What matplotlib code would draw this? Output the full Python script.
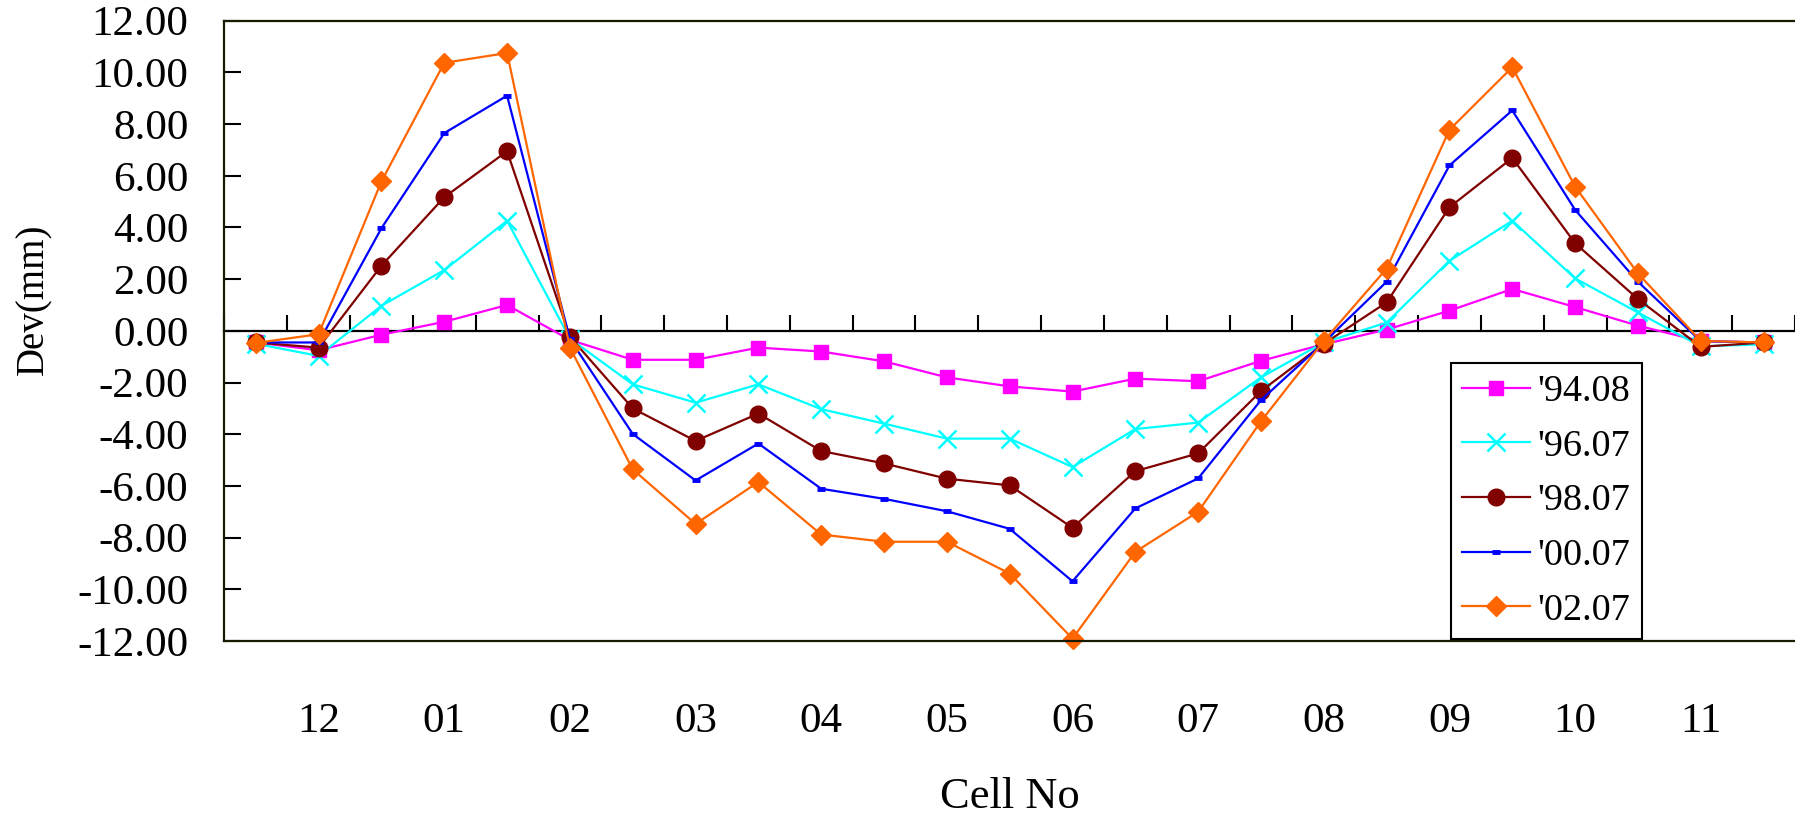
import numpy as np
import matplotlib
matplotlib.use("Agg")
import matplotlib.pyplot as plt
from matplotlib.ticker import FormatStrFormatter

plt.rcParams['font.family'] = ['Liberation Serif', 'DejaVu Serif']
plt.rcParams['axes.unicode_minus'] = False

# cell positions: 25 survey points, labels on every other one
cell_labels = ['12', '01', '02', '03', '04', '05', '06', '07', '08', '09', '10', '11']
label_pos = list(range(1, 25, 2))
n_pts = 25

dev_9408 = [-0.45, -0.75, -0.15, 0.35, 1.0, -0.35, -1.12, -1.12, -0.65, -0.8, -1.18, -1.8, -2.15,
            -2.35, -1.85, -1.95, -1.16, -0.52, 0.05, 0.78, 1.62, 0.92, 0.2, -0.4, -0.45]
dev_9607 = [-0.5, -0.97, 0.97, 2.35, 4.26, -0.3, -2.07, -2.78, -2.07, -3.03, -3.59, -4.17, -4.17,
            -5.27, -3.8, -3.55, -1.8, -0.45, 0.32, 2.71, 4.26, 2.03, 0.71, -0.6, -0.52]
dev_9807 = [-0.45, -0.65, 2.52, 5.17, 6.95, -0.23, -3.0, -4.26, -3.2, -4.65, -5.13, -5.72, -5.98,
            -7.62, -5.43, -4.74, -2.33, -0.5, 1.1, 4.78, 6.69, 3.39, 1.23, -0.62, -0.45]
dev_0007 = [-0.45, -0.45, 3.97, 7.65, 9.1, -0.32, -3.99, -5.79, -4.36, -6.11, -6.5, -6.98, -7.66,
            -9.69, -6.87, -5.71, -2.68, -0.45, 1.9, 6.4, 8.53, 4.68, 1.9, -0.4, -0.45]
dev_0207 = [-0.47, -0.13, 5.78, 10.37, 10.75, -0.65, -5.36, -7.47, -5.85, -7.88, -8.16, -8.16, -9.39,
            -11.91, -8.55, -7.0, -3.5, -0.39, 2.41, 7.78, 10.2, 5.58, 2.22, -0.39, -0.45]

x = np.arange(n_pts)

fig = plt.figure(figsize=(17.95, 8.18), dpi=100)
ax = fig.add_axes([0.125, 0.2164, 0.875, 0.7583])

ax.plot(x, dev_9408, color='#FF00FF', lw=1.6, marker='s', ms=10, label="'94.08", clip_on=False)
ax.plot(x, dev_9607, color='#00FFFF', lw=1.6, marker='x', ms=13, mew=1.8, label="'96.07", clip_on=False)
ax.plot(x, dev_9807, color='#800000', lw=1.6, marker='o', ms=12, label="'98.07", clip_on=False)
ax.plot(x, dev_0007, color='#0000FF', lw=1.6, marker='_', ms=6, mew=3.5, label="'00.07", clip_on=False)
ax.plot(x, dev_0207, color='#FF6600', lw=1.6, marker='D', ms=10, label="'02.07", clip_on=False)

ax.set_xlim(-0.5, n_pts - 0.5)
ax.set_ylim(-12, 12)

# y axis
ax.set_yticks(np.arange(-12, 13, 2))
ax.yaxis.set_major_formatter(FormatStrFormatter('%.2f'))
ax.tick_params(axis='y', direction='in', length=12, width=1.5, pad=26, labelsize=31)

# x labels at the bottom, no tick marks
ax.set_xticks(label_pos, cell_labels)
ax.tick_params(axis='x', length=0, pad=44, labelsize=31)

for side in ['top', 'bottom', 'left']:
    ax.spines[side].set_linewidth(1.6)
    ax.spines[side].set_color('#1a1a00')
ax.spines['right'].set_visible(False)

# zero line with category boundary ticks
zero_ax = ax.secondary_xaxis(0.5)
zero_ax.set_xticks(np.arange(-0.5, n_pts, 1))
zero_ax.tick_params(axis='x', direction='out', length=11.5, width=1.5, labeltop=False, labelbottom=False)
zero_ax.spines['top'].set_linewidth(1.6)
zero_ax.spines['top'].set_color('black')

fig.text(1010 / 1795, 1 - 808 / 818, 'Cell No', fontsize=32, ha='center', va='baseline')
fig.text(34 / 1795, 1 - 299 / 818, 'Dev(mm)', fontsize=28, rotation=90, ha='center', va='center')

leg = ax.legend(loc='lower right', bbox_to_anchor=(1642 / 1795, 1 - 639 / 818),
                bbox_transform=fig.transFigure, borderaxespad=0, fontsize=27.5,
                numpoints=1, handlelength=1.77, handletextpad=0.2, labelspacing=0.52,
                borderpad=0.3, fancybox=False, framealpha=1)
leg.get_frame().set_edgecolor('black')
leg.get_frame().set_linewidth(1.5)

fig.savefig('out.png', dpi=100)
